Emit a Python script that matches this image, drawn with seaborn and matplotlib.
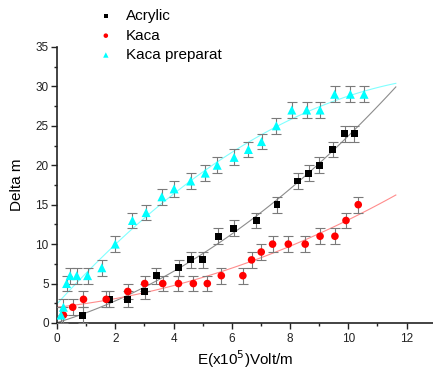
import numpy as np
import pandas as pd
import matplotlib
matplotlib.use("Agg")
import matplotlib.pyplot as plt
from matplotlib.ticker import MultipleLocator
import seaborn as sns

# Acrylic
acrylic_x = [0.88, 1.8, 2.43, 3.01, 3.41, 4.18, 4.59, 5.0, 5.54, 6.07, 6.84, 7.55, 8.26, 8.64, 9.0, 9.47, 9.87, 10.2]
acrylic_y = [1, 3, 3, 4, 6, 7, 8, 8, 11, 12, 13, 15, 18, 19, 20, 22, 24, 24]

# Kaca
kaca_x = [0.22, 0.54, 0.91, 1.69, 2.43, 3.01, 3.63, 4.17, 4.68, 5.16, 5.64, 6.38, 6.68, 7.01, 7.4, 7.94, 8.52, 9.03, 9.54, 9.92, 10.34]
kaca_y = [1, 2, 3, 3, 4, 5, 5, 5, 5, 5, 6, 6, 8, 9, 10, 10, 10, 11, 11, 13, 15]

# Kaca preparat
prep_x = [0.14, 0.22, 0.33, 0.45, 0.68, 1.05, 1.54, 2.0, 2.59, 3.06, 3.6, 4.02, 4.59, 5.09, 5.5, 6.08,
          6.57, 7.02, 7.53, 8.06, 8.57, 9.03, 9.53, 10.07, 10.54]
prep_y = [1, 2, 5, 6, 6, 6, 7, 10, 13, 14, 16, 17, 18, 19, 20, 21, 22, 23, 25, 27, 27, 27, 29, 29, 29]

err = 1.0

series = [
    ("Acrylic", acrylic_x, acrylic_y, "black", "s", 24, "#8c8c8c"),
    ("Kaca", kaca_x, kaca_y, "#ff0000", "o", 30, "#ff8c8c"),
    ("Kaca preparat", prep_x, prep_y, "#00ffff", "^", 42, "#80ffff"),
]

plt.rcParams["font.family"] = ["Liberation Sans", "DejaVu Sans"]

fig = plt.figure(figsize=(4.33, 3.69), dpi=100)
ax = fig.add_axes([0.1316, 0.1247, 0.87, 0.748])

# fitted curves, drawn over 0 .. 11.63
ax.set_xlim(0, 11.63)
for name, xs, ys, color, marker, size, fitcolor in series:
    df = pd.DataFrame({"x": xs, "y": ys})
    sns.regplot(data=df, x="x", y="y", order=2, ci=None, scatter=False, truncate=False,
                line_kws={"color": fitcolor, "lw": 0.8}, ax=ax)

for name, xs, ys, color, marker, size, fitcolor in series:
    ax.errorbar(xs, ys, yerr=err, fmt="none", ecolor="#7a7a7a", elinewidth=0.8,
                capsize=3.8, capthick=0.8, zorder=3)
    df = pd.DataFrame({"x": xs, "y": ys})
    sns.scatterplot(data=df, x="x", y="y", color=color, marker=marker, s=size,
                    edgecolor="none", ax=ax, zorder=4, label=name)

ax.set_xlim(0, 12.93)
ax.set_ylim(0, 35)
ax.xaxis.set_major_locator(MultipleLocator(2))
ax.xaxis.set_minor_locator(MultipleLocator(1))
ax.yaxis.set_major_locator(MultipleLocator(5))
ax.yaxis.set_minor_locator(MultipleLocator(2.5))
for s in ["top", "right"]:
    ax.spines[s].set_visible(False)
for s in ["left", "bottom"]:
    ax.spines[s].set_linewidth(1.2)
    ax.spines[s].set_color("#222222")
ax.tick_params(which="major", length=4, width=1, labelsize=8.5, colors="#222222", pad=2)
ax.tick_params(axis="x", which="major", pad=3.5)
ax.tick_params(which="minor", length=2.5, width=1, colors="#222222")
ax.set_xlabel("E(x10$^5$)Volt/m", fontsize=11, labelpad=2)
ax.set_ylabel("Delta m", fontsize=11, labelpad=8)

handles, labels = ax.get_legend_handles_labels()
ax.get_legend().remove()
fig.legend(handles, labels, loc="upper left", bbox_to_anchor=(0.195, 1.012), frameon=False,
           fontsize=11, markerscale=0.6, handletextpad=0.8, labelspacing=0.35,
           handlelength=1.0)

fig.savefig("out.png", dpi=100)
